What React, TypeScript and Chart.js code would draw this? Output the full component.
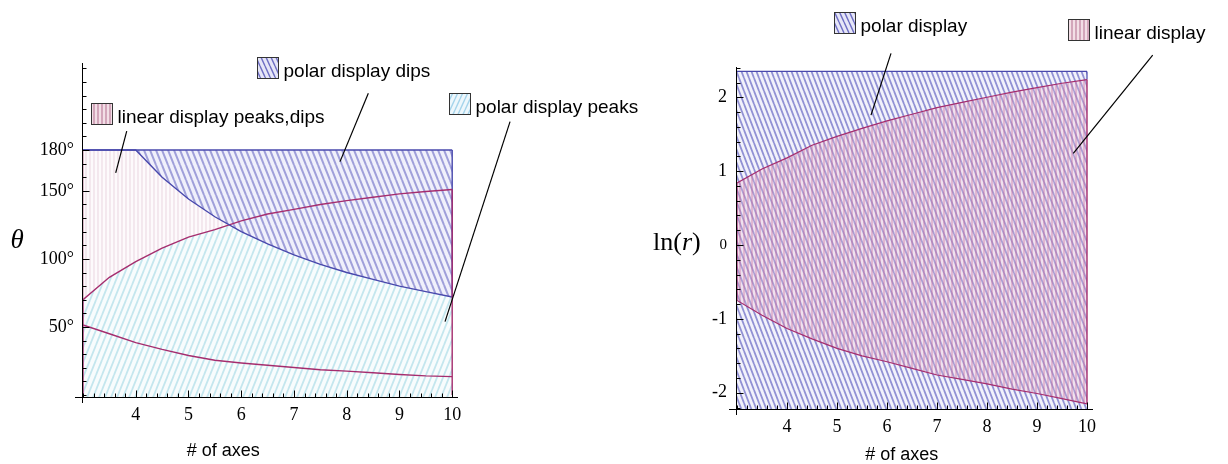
import React, { useEffect, useRef } from "react";
import { Chart, registerables } from "chart.js";
Chart.register(...registerables);

// ---------- data ----------
const AXES = [3, 3.5, 4, 4.5, 5, 5.5, 6, 6.5, 7, 7.5, 8, 8.5, 9, 9.5, 10];

// left chart (theta, degrees)
const THETA_TOP = [180, 180, 180, 180, 180, 180, 180, 180, 180, 180, 180, 180, 180, 180, 180];
const THETA_POLAR_DIPS = [180, 180, 180, 160, 144, 131, 120, 111, 103, 96, 90, 85, 80, 76, 72];
const THETA_LINEAR_UPPER = [70, 86.5, 98, 108, 116, 121.5, 128, 133, 136.4, 140, 142.8, 145.3, 147.8, 149.6, 151];
const THETA_LINEAR_LOWER = [51.5, 45, 38.5, 33.5, 29, 25.5, 23.5, 21.8, 20.2, 18.5, 17.5, 16.3, 15, 14, 13.5];
const THETA_FLOOR = 0;

// right chart (ln r)
const LNR_POLAR_TOP = [2.35, 2.35, 2.35, 2.35, 2.35, 2.35, 2.35, 2.35, 2.35, 2.35, 2.35, 2.35, 2.35, 2.35, 2.35];
const LNR_LINEAR_UPPER = [0.84, 1.03, 1.18, 1.35, 1.47, 1.58, 1.68, 1.77, 1.86, 1.93, 2.0, 2.07, 2.13, 2.19, 2.24];
const LNR_LINEAR_LOWER = [-0.75, -0.95, -1.13, -1.27, -1.4, -1.5, -1.58, -1.67, -1.76, -1.82, -1.88, -1.95, -2.01, -2.08, -2.15];

// ticks
const X_TICKS = [4, 5, 6, 7, 8, 9, 10];
const THETA_TICKS = [50, 100, 150, 180];
const LNR_TICKS = [-2, -1, 0, 1, 2];

const X_TITLE = "# of axes";
const THETA_TITLE = "θ";
const LEFT_NOTES_TEXT = ["linear display peaks,dips", "polar display dips", "polar display peaks"];
const RIGHT_NOTES_TEXT = ["polar display", "linear display"];

// ---------- styles ----------
const SERIF = "'Liberation Serif', 'Times New Roman', serif";
const SANS = "'Liberation Sans', Arial, sans-serif";
const BLUE = "rgb(72,72,172)";
const RED = "rgb(165,45,110)";
const LEFT_W = 720;
const RIGHT_W = 614;

type Pt = [number, number];

function hatch(dir: "back" | "fwd" | "vert", line: string, bg: string | null, w: number, h: number, lw: number) {
  const c = document.createElement("canvas");
  c.width = w;
  c.height = h;
  const g = c.getContext("2d")!;
  if (bg) {
    g.fillStyle = bg;
    g.fillRect(0, 0, w, h);
  }
  g.strokeStyle = line;
  g.lineWidth = lw;
  g.beginPath();
  if (dir === "vert") {
    g.moveTo(w / 2, 0);
    g.lineTo(w / 2, h);
  } else {
    for (const o of [-w, 0, w]) {
      if (dir === "back") {
        g.moveTo(o, 0);
        g.lineTo(o + w, h);
      } else {
        g.moveTo(o, h);
        g.lineTo(o + w, 0);
      }
    }
  }
  g.stroke();
  return g.createPattern(c, "repeat")!;
}

function pts(ys: number[]) {
  return AXES.map((x, i) => ({ x, y: ys[i] }));
}
function seg(x: number, y1: number, y2: number) {
  return [{ x, y: y1 }, { x, y: y2 }];
}
const last = (a: number[]) => a[a.length - 1];

interface Note {
  label: string;
  swatch: any;
  box: Pt;
  leader: [Pt, Pt];
}
interface TitlePart {
  t: string;
  font: string;
}
interface Title {
  parts: TitlePart[];
  at: Pt;
  align: "left" | "center";
}
interface Decor {
  xMinor: number;
  yMinor: number;
  xMajor: number[];
  yMajor: number[];
  notes: Note[];
  titles: Title[];
}

function decorPlugin(d: Decor) {
  return {
    id: "decor",
    afterDatasetsDraw(chart: any) {
      const { ctx, chartArea: a } = chart;
      const sx = chart.scales.x;
      const sy = chart.scales.y;
      const X = (v: number) => sx.getPixelForValue(v);
      const Y = (v: number) => sy.getPixelForValue(v);
      ctx.save();
      ctx.strokeStyle = "#000";
      ctx.lineWidth = 1;
      const ax = Math.round(a.left) - 0.5;
      const ay = Math.round(a.bottom) + 0.5;
      ctx.beginPath();
      ctx.moveTo(a.left - 8, ay);
      ctx.lineTo(a.right, ay);
      ctx.moveTo(ax, a.top);
      ctx.lineTo(ax, a.bottom + 6);
      const eps = 1e-6;
      for (let k = Math.ceil(sx.min / d.xMinor - eps); k * d.xMinor <= sx.max + eps; k++) {
        const v = k * d.xMinor;
        const major = d.xMajor.some((m) => Math.abs(m - v) < eps);
        const px = Math.round(X(v)) + 0.5;
        ctx.moveTo(px, ay);
        ctx.lineTo(px, ay - (major ? 7 : 4));
      }
      for (let k = Math.ceil(sy.min / d.yMinor - eps); k * d.yMinor <= sy.max + eps; k++) {
        const v = k * d.yMinor;
        const major = d.yMajor.some((m) => Math.abs(m - v) < eps);
        const py = Math.round(Y(v)) + 0.5;
        ctx.moveTo(ax, py);
        ctx.lineTo(ax + (major ? 7 : 4), py);
      }
      ctx.stroke();

      // notes
      const S = 21;
      for (const n of d.notes) {
        const bx = Math.round(X(n.box[0])) + 0.5;
        const by = Math.round(Y(n.box[1])) + 0.5;
        ctx.fillStyle = n.swatch;
        ctx.fillRect(bx, by, S, S);
        ctx.strokeStyle = "#333";
        ctx.lineWidth = 1;
        ctx.strokeRect(bx, by, S, S);
        ctx.fillStyle = "#000";
        ctx.font = `19px ${SANS}`;
        ctx.textAlign = "left";
        ctx.textBaseline = "alphabetic";
        ctx.fillText(n.label, bx + S + 5, by + S - 2);
        ctx.beginPath();
        ctx.strokeStyle = "#000";
        ctx.lineWidth = 1.2;
        ctx.moveTo(X(n.leader[0][0]), Y(n.leader[0][1]));
        ctx.lineTo(X(n.leader[1][0]), Y(n.leader[1][1]));
        ctx.stroke();
      }
      // titles
      ctx.fillStyle = "#000";
      ctx.textBaseline = "alphabetic";
      for (const t of d.titles) {
        let total = 0;
        for (const p of t.parts) {
          ctx.font = p.font;
          total += ctx.measureText(p.t).width;
        }
        let x = X(t.at[0]) - (t.align === "center" ? total / 2 : 0);
        const y = Y(t.at[1]);
        ctx.textAlign = "left";
        for (const p of t.parts) {
          ctx.font = p.font;
          ctx.fillText(p.t, x, y);
          x += ctx.measureText(p.t).width;
        }
      }
      ctx.restore();
    },
  };
}

function lineDs(data: any[], color: string, order = 1, width = 1.4) {
  return {
    data,
    borderColor: color,
    borderWidth: width,
    pointRadius: 0,
    fill: false,
    tension: 0,
    order,
  };
}

function baseOptions(xmax: number, ymin: number, ymax: number, yTicks: number[], pad: any, yWidth: number, yFmt: (v: number) => string, yFont: any, yPad: number) {
  return {
    responsive: false,
    animation: false,
    events: [],
    layout: { padding: pad },
    plugins: { legend: { display: false }, tooltip: { enabled: false }, title: { display: false } },
    scales: {
      x: {
        type: "linear",
        min: 3,
        max: xmax,
        afterBuildTicks: (s: any) => {
          s.ticks = X_TICKS.map((v) => ({ value: v }));
        },
        afterFit: (s: any) => {
          s.height = 30;
        },
        grid: { display: false, drawTicks: false },
        border: { display: false },
        ticks: { color: "#000", font: { family: SERIF, size: 18 }, padding: 7, autoSkip: false, maxRotation: 0 },
      },
      y: {
        type: "linear",
        min: ymin,
        max: ymax,
        afterBuildTicks: (s: any) => {
          s.ticks = yTicks.map((v) => ({ value: v }));
        },
        afterFit: (s: any) => {
          s.width = yWidth;
        },
        grid: { display: false, drawTicks: false },
        border: { display: false },
        ticks: { color: "#000", font: yFont, padding: yPad, autoSkip: false, callback: (v: any) => yFmt(Number(v)) },
      },
    },
  };
}

function buildLeft(): any {
  const cyan = hatch("fwd", "rgb(196,230,238)", "rgb(248,252,253)", 6, 15, 1.8);
  const pink = hatch("vert", "rgba(232,210,222,0.9)", "rgb(253,250,252)", 4, 4, 1);
  const blue = hatch("back", "rgb(160,160,218)", "rgb(240,240,251)", 6, 15, 2);
  const swCyan = hatch("fwd", "rgb(165,212,235)", "rgb(238,247,252)", 5, 11, 1.4);
  const swPink = hatch("vert", "rgb(185,120,150)", "rgb(242,222,230)", 4, 4, 1.1);
  const swBlue = hatch("back", "rgb(110,110,195)", "rgb(230,230,247)", 5, 11, 1.4);
  const n = AXES.length;
  const data = {
    datasets: [
      { data: pts(THETA_POLAR_DIPS), fill: "start", backgroundColor: cyan, borderWidth: 0, pointRadius: 0, order: 10 },
      {
        data: pts(THETA_LINEAR_UPPER),
        fill: { target: 0, above: "rgba(0,0,0,0)", below: pink },
        borderWidth: 0,
        pointRadius: 0,
        order: 9,
      },
      { data: pts(THETA_POLAR_DIPS), fill: 3, backgroundColor: blue, borderWidth: 0, pointRadius: 0, order: 8 },
      lineDs(pts(THETA_TOP), BLUE),
      lineDs(pts(THETA_POLAR_DIPS), BLUE),
      lineDs(pts(THETA_LINEAR_UPPER), RED),
      lineDs(pts(THETA_LINEAR_LOWER), RED),
      lineDs(seg(AXES[n - 1], last(THETA_TOP), last(THETA_POLAR_DIPS)), BLUE),
      lineDs(seg(AXES[n - 1], last(THETA_LINEAR_UPPER), THETA_FLOOR), RED, 0),
      lineDs(seg(AXES[0], THETA_TOP[0], THETA_LINEAR_UPPER[0]), "rgba(200,150,175,0.6)", 2, 1),
      lineDs(seg(AXES[0], THETA_LINEAR_UPPER[0], THETA_FLOOR), RED, 0),
    ],
  };
  const decor: Decor = {
    xMinor: 0.2,
    yMinor: 10,
    xMajor: X_TICKS,
    yMajor: THETA_TICKS,
    notes: [
      { label: LEFT_NOTES_TEXT[0], swatch: swPink, box: [3.146, 214.4], leader: [[3.829, 193.9], [3.62, 163.3]] },
      { label: LEFT_NOTES_TEXT[1], swatch: swBlue, box: [6.293, 248.7], leader: [[8.41, 221.8], [7.873, 171.5]] },
      { label: LEFT_NOTES_TEXT[2], swatch: swCyan, box: [9.946, 221.8], leader: [[11.097, 200.9], [9.864, 53.9]] },
    ],
    titles: [
      { parts: [{ t: X_TITLE, font: `18px ${SANS}` }], at: [5.66, -44.8], align: "center" },
      { parts: [{ t: THETA_TITLE, font: `italic 27px ${SERIF}` }], at: [1.749, 107.8], align: "center" },
    ],
  };
  return {
    type: "line",
    data,
    options: baseOptions(
      10.11,
      -1.5,
      244,
      THETA_TICKS,
      { left: 0, right: LEFT_W - 458, top: 63, bottom: 37 },
      83,
      (v) => `${v}°`,
      { family: SERIF, size: 18 },
      9
    ),
    plugins: [decorPlugin(decor)],
  };
}

function buildRight(): any {
  const blue = hatch("back", "rgb(145,145,212)", "rgb(242,242,251)", 5, 13, 1.8);
  const pink = hatch("vert", "rgba(195,100,150,0.55)", "rgba(235,185,210,0.3)", 4, 4, 1.2);
  const swBlue = hatch("back", "rgb(110,110,195)", "rgb(230,230,247)", 5, 11, 1.4);
  const swPink = hatch("vert", "rgb(185,120,150)", "rgb(242,222,230)", 4, 4, 1.1);
  const n = AXES.length;
  const data = {
    datasets: [
      { data: pts(LNR_POLAR_TOP), fill: "start", backgroundColor: blue, borderColor: BLUE, borderWidth: 1.2, pointRadius: 0, order: 10 },
      lineDs(pts(LNR_LINEAR_LOWER), RED, 1, 1.2),
      { data: pts(LNR_LINEAR_UPPER), fill: 1, backgroundColor: pink, borderColor: RED, borderWidth: 1.2, pointRadius: 0, order: 5 },
      lineDs(seg(AXES[0], LNR_LINEAR_UPPER[0], LNR_LINEAR_LOWER[0]), RED, 0, 1.2),
      lineDs(seg(AXES[n - 1], last(LNR_LINEAR_UPPER), last(LNR_LINEAR_LOWER)), RED, 0, 1.4),
      lineDs(seg(AXES[n - 1], last(LNR_POLAR_TOP), last(LNR_LINEAR_UPPER)), BLUE, 0, 1.2),
    ],
  };
  const decor: Decor = {
    xMinor: 0.2,
    yMinor: 0.2,
    xMajor: X_TICKS,
    yMajor: LNR_TICKS,
    notes: [
      { label: RIGHT_NOTES_TEXT[0], swatch: swBlue, box: [4.94, 3.149], leader: [[6.08, 2.594], [5.68, 1.759]] },
      { label: RIGHT_NOTES_TEXT[1], swatch: swPink, box: [9.626, 3.058], leader: [[11.314, 2.571], [9.726, 1.241]] },
    ],
    titles: [
      { parts: [{ t: X_TITLE, font: `18px ${SANS}` }], at: [6.294, -2.909], align: "center" },
      {
        parts: [
          { t: "ln(", font: `26px ${SERIF}` },
          { t: "r", font: `italic 26px ${SERIF}` },
          { t: ")", font: `26px ${SERIF}` },
        ],
        at: [1.32, -0.068],
        align: "left",
      },
    ],
  };
  return {
    type: "line",
    data,
    options: baseOptions(
      10.12,
      -2.22,
      2.41,
      LNR_TICKS,
      { left: 0, right: RIGHT_W - 479, top: 67, bottom: 25 },
      123,
      (v) => `${v}`,
      (c: any) => ({ family: SERIF, size: c.tick && c.tick.value === 0 ? 15 : 18 }),
      10
    ),
    plugins: [decorPlugin(decor)],
  };
}

function ChartCanvas({ build, left, width }: { build: () => any; left: number; width: number }) {
  const ref = useRef<HTMLCanvasElement>(null);
  useEffect(() => {
    const chart = new Chart(ref.current!, build());
    return () => chart.destroy();
  }, []);
  return (
    <canvas
      ref={ref}
      width={width}
      height={464}
      style={{ position: "absolute", left, top: 0, width, height: 464, display: "block" }}
    />
  );
}

export default function App() {
  return (
    <div>
      <ChartCanvas build={buildLeft} left={0} width={LEFT_W} />
      <ChartCanvas build={buildRight} left={614} width={RIGHT_W} />
    </div>
  );
}
